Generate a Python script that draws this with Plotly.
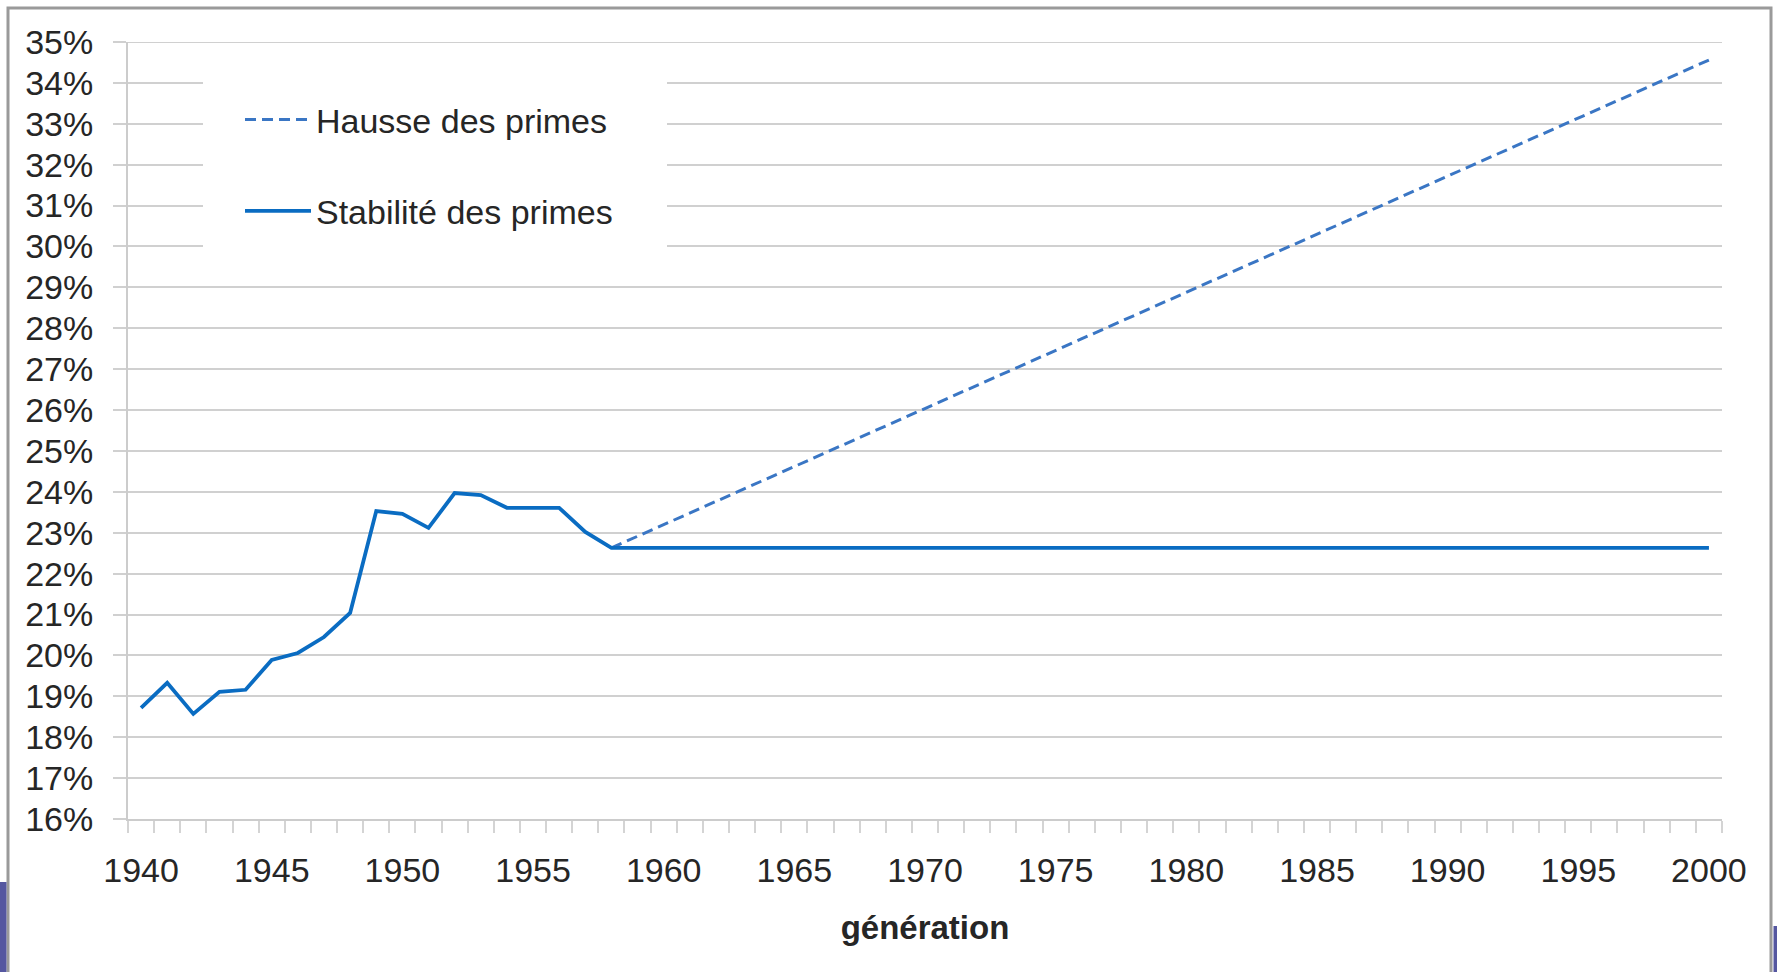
import plotly.graph_objects as go

# ---- data ----
years_hist = [1940, 1941, 1942, 1943, 1944, 1945, 1946, 1947, 1948, 1949,
              1950, 1951, 1952, 1953, 1954, 1955, 1956, 1957, 1958]
rate_hist = [18.72, 19.33, 18.57, 19.11, 19.16, 19.89, 20.06, 20.45, 21.04, 23.53,
             23.46, 23.12, 23.97, 23.92, 23.61, 23.61, 23.61, 23.02, 22.63]

years_stab = years_hist + [2000]
rate_stab = rate_hist + [22.63]

years_hausse = [1958, 2000]
rate_hausse = [22.63, 34.56]

y_ticks = list(range(16, 36))
x_label_years = list(range(1940, 2001, 5))
x_boundaries = [1939.5 + i for i in range(62)]

FONT = "Liberation Sans, Arial, sans-serif"
TXT = "#262626"
GRID = "#D0D0D0"

fig = go.Figure()
fig.add_trace(go.Scatter(
    x=years_hausse, y=rate_hausse, mode="lines", name="Hausse des primes",
    line=dict(color="#3A76C4", width=3, dash="11px,6px"), legendgroup="a"))
fig.add_trace(go.Scatter(
    x=years_stab, y=rate_stab, mode="lines", name="Stabilité des primes",
    line=dict(color="#0A6CC2", width=3.8), legendgroup="b"))

# plot area geometry: x 128..1722, y 42..819 (of 1777x972)
L, R, T, B = 128, 1722, 42, 819
W, H = 1777, 972
pw, ph = R - L, B - T

def px(x):
    return (x - L) / pw

def py(y):
    return (B - y) / ph

shapes = [
    # white legend background covering grid lines (legend drawn on top)
    dict(type="rect", xref="paper", yref="paper", layer="above",
         x0=px(203), x1=px(667), y0=py(262), y1=py(62),
         fillcolor="white", line=dict(width=0)),
    # top grid line at 35%
    dict(type="line", xref="paper", yref="y", layer="below",
         x0=px(115), x1=1, y0=35, y1=35,
         line=dict(color=GRID, width=2)),
    # outer border
    dict(type="rect", xref="paper", yref="paper", layer="above",
         x0=px(8), x1=px(1771), y0=py(985), y1=py(8),
         fillcolor="rgba(0,0,0,0)", line=dict(color="#9A9A9A", width=3)),
    # purple strips in corners (screenshot artefacts)
    dict(type="rect", xref="paper", yref="paper", layer="above",
         x0=px(0), x1=px(6.5), y0=py(972), y1=py(882),
         fillcolor="#5557A0", line=dict(width=0)),
    dict(type="rect", xref="paper", yref="paper", layer="above",
         x0=px(1773.5), x1=px(1777), y0=py(972), y1=py(926),
         fillcolor="#5557A0", line=dict(width=0)),
]

fig.update_layout(
    width=W, height=H,
    margin=dict(l=L, r=W - R, t=T, b=H - B),
    paper_bgcolor="white", plot_bgcolor="white",
    font=dict(family=FONT, size=34, color=TXT),
    showlegend=True,
    legend=dict(x=px(240), y=py(91), xanchor="left", yanchor="top",
                bgcolor="rgba(255,255,255,0)", borderwidth=0,
                font=dict(family=FONT, size=34, color=TXT),
                itemwidth=66, tracegroupgap=44, traceorder="grouped",
                itemclick=False),
    shapes=shapes,
    xaxis=dict(
        range=[1939.5, 2000.5], tickmode="array", tickvals=x_label_years,
        ticktext=[str(v) for v in x_label_years], ticks="", showgrid=False,
        showline=True, linecolor="#CCCCCC", linewidth=2,
        tickfont=dict(family=FONT, size=34, color=TXT),
        ticklabelstandoff=20,
        minor=dict(tickmode="array", tickvals=x_boundaries, ticks="outside",
                   ticklen=12, tickwidth=2, tickcolor="#D4D4D4", showgrid=False),
        title=dict(text="<b>génération</b>", standoff=28,
                   font=dict(family=FONT, size=33, color=TXT)),
        zeroline=False, fixedrange=True),
    yaxis=dict(
        range=[16, 35], tickmode="array", tickvals=y_ticks,
        ticktext=[f"{v}%" for v in y_ticks],
        ticks="outside", ticklen=13, tickwidth=2, tickcolor=GRID,
        showgrid=True, gridcolor=GRID, gridwidth=2,
        showline=True, linecolor="#CCCCCC", linewidth=2,
        tickfont=dict(family=FONT, size=34, color=TXT),
        ticklabelstandoff=13,
        zeroline=False, fixedrange=True),
)

fig.write_html(
    "out.html",
    config={"displayModeBar": False},
    post_script="document.body.style.margin='0px';document.body.style.padding='0px';"
                "document.body.style.overflow='hidden';",
)
